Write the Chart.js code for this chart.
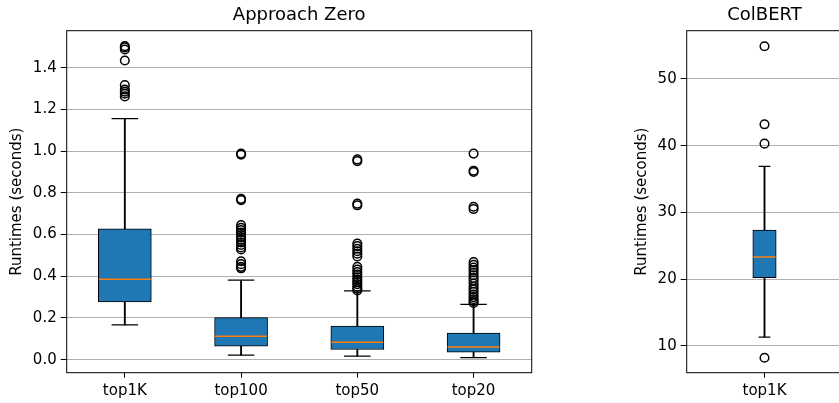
<!DOCTYPE html>
<html>
<head>
<meta charset="utf-8">
<style>
  html, body { margin: 0; padding: 0; background: #fff; overflow: hidden; }
  body { width: 839px; height: 403px; position: relative; }
  #azChart { position: absolute; left: 0; top: 0; }
  #cbChart { position: absolute; left: 600px; top: 0; }
</style>
</head>
<body>
<canvas id="azChart" width="560" height="403"></canvas>
<canvas id="cbChart" width="250" height="403"></canvas>
<script src="https://cdn.jsdelivr.net/npm/chart.js"></script>
<script>
// Approach Zero runtimes (seconds)
const azLabels = ["top1K", "top100", "top50", "top20"];
const azQ1 = [0.277, 0.065, 0.049, 0.036];
const azMedian = [0.386, 0.113, 0.084, 0.061];
const azQ3 = [0.627, 0.202, 0.161, 0.128];
const azLow = [0.167, 0.022, 0.017, 0.010];
const azHigh = [1.156, 0.381, 0.330, 0.265];
const azOutliers = [
  [1.503, 1.497, 1.487, 1.434, 1.316, 1.295, 1.285, 1.275, 1.262],
  [0.988, 0.983, 0.771, 0.765, 0.645, 0.632, 0.621, 0.610, 0.598, 0.587, 0.575, 0.562, 0.550, 0.538, 0.528, 0.472, 0.458, 0.445, 0.438],
  [0.960, 0.952, 0.748, 0.740, 0.557, 0.545, 0.532, 0.520, 0.508, 0.495, 0.445, 0.432, 0.420, 0.408, 0.395, 0.383, 0.372, 0.362, 0.350, 0.340, 0.332],
  [0.988, 0.906, 0.900, 0.733, 0.722, 0.468, 0.455, 0.442, 0.430, 0.418, 0.405, 0.392, 0.380, 0.365, 0.350, 0.338, 0.325, 0.312, 0.300, 0.290, 0.280, 0.272]
];

// ColBERT runtimes (seconds)
const cbLabels = ["top1K"];
const cbQ1 = [20.2];
const cbMedian = [23.3];
const cbQ3 = [27.35];
const cbLow = [11.3];
const cbHigh = [36.9];
const cbOutliers = [[54.9, 43.2, 40.3, 8.2]];

Chart.defaults.font.family = "'DejaVu Sans', sans-serif";
Chart.defaults.font.size = 15;
Chart.defaults.color = "#000";

const frame = {
  id: "frame",
  afterDraw(chart) {
    const {ctx, chartArea: a} = chart;
    ctx.save();
    ctx.strokeStyle = "#000";
    ctx.lineWidth = 1;
    ctx.strokeRect(a.left, a.top, a.right - a.left, a.bottom - a.top);
    ctx.restore();
  }
};

function boxChart(id, o) {
  const outlierPts = [];
  o.outliers.forEach((list, i) => list.forEach(v => outlierPts.push({x: o.labels[i], y: v})));

  const marks = (data, r, color, w, order) => ({
    type: "line", data, showLine: false, order,
    pointStyle: "line", pointRadius: r, pointBorderColor: color, pointBorderWidth: w
  });

  return new Chart(document.getElementById(id), {
    type: "bar",
    data: {
      labels: o.labels,
      datasets: [
        { data: o.labels.map((_, i) => [o.low[i], o.q1[i]]), backgroundColor: "#000",
          barThickness: 1.2, grouped: false, order: 5 },
        { data: o.labels.map((_, i) => [o.q3[i], o.high[i]]), backgroundColor: "#000",
          barThickness: 1.2, grouped: false, order: 5 },
        { data: o.labels.map((_, i) => [o.q1[i], o.q3[i]]), backgroundColor: "#1f77b4",
          borderColor: "#000", borderWidth: 1, borderSkipped: false,
          barThickness: o.boxWidth, grouped: false, order: 4 },
        marks(o.median, o.boxWidth / 2 - 0.5, "#ff7f0e", 1.5, 3),
        marks(o.low, o.boxWidth / 4, "#000", 1.2, 2),
        marks(o.high, o.boxWidth / 4, "#000", 1.2, 2),
        { type: "line", data: outlierPts, showLine: false, order: 1,
          pointStyle: "circle", pointRadius: 4.3, pointBorderWidth: 1.5,
          pointBorderColor: "#000", pointBackgroundColor: "rgba(0,0,0,0)" }
      ]
    },
    options: {
      responsive: false,
      animation: false,
      events: [],
      layout: { autoPadding: false, padding: { left: 0, right: o.padRight, top: 0, bottom: 0 } },
      plugins: {
        legend: { display: false },
        tooltip: { enabled: false },
        title: {
          display: true, text: o.title, fullSize: false, color: "#000",
          font: { size: 18, weight: "normal" }, padding: { top: 4.5, bottom: 4.6 }
        }
      },
      scales: {
        x: {
          offset: true,
          border: { display: false },
          grid: { display: true, offset: false, drawOnChartArea: false, tickLength: 5,
                  tickColor: "#000", tickWidth: 1 },
          ticks: { padding: 4, color: "#000" },
          afterFit(s) { s.height = 30.3; s.paddingLeft = 0; s.paddingRight = 0; }
        },
        y: {
          min: o.min, max: o.max,
          border: { display: false },
          grid: { color: "#b0b0b0", lineWidth: 1, tickLength: 6, tickColor: "#000", tickWidth: 1 },
          ticks: { stepSize: o.step, includeBounds: false, padding: 4, color: "#000",
                   callback: v => o.fmt(v) },
          title: { display: true, text: "Runtimes (seconds)", color: "#000",
                   padding: { top: o.yTitlePad, bottom: 0 } },
          afterFit(s) { s.width = o.axisWidth; s.paddingTop = 0; s.paddingBottom = 0; }
        }
      }
    },
    plugins: [frame]
  });
}

boxChart("azChart", {
  title: "Approach Zero", labels: azLabels, q1: azQ1, median: azMedian, q3: azQ3,
  low: azLow, high: azHigh, outliers: azOutliers,
  min: -0.0623, max: 1.577, step: 0.2, fmt: v => v.toFixed(1),
  boxWidth: 53, axisWidth: 66.7, padRight: 28.3, yTitlePad: 8
});

boxChart("cbChart", {
  title: "ColBERT", labels: cbLabels, q1: cbQ1, median: cbMedian, q3: cbQ3,
  low: cbLow, high: cbHigh, outliers: cbOutliers,
  min: 5.95, max: 57.24, step: 10, fmt: v => v.toFixed(0),
  boxWidth: 23.4, axisWidth: 86.7, padRight: 7.7, yTitlePad: 32.7
});
</script>
</body>
</html>
